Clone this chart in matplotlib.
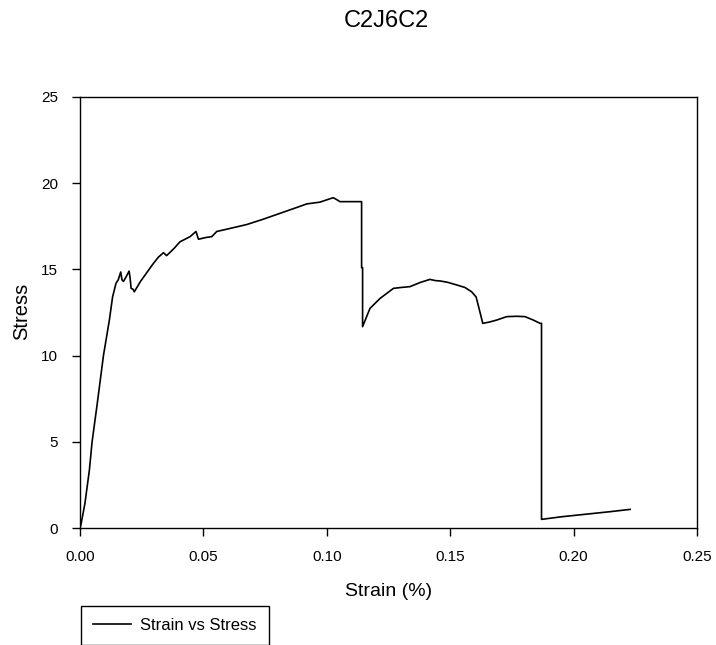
import matplotlib
matplotlib.use("Agg")
import matplotlib.pyplot as plt

plt.rcParams['font.family'] = ['Liberation Sans', 'DejaVu Sans']

title = "C2J6C2"
x_label = "Strain (%)"
y_label = "Stress"
series_label = "Strain vs Stress"

strain = [0.0000, 0.0004, 0.0020, 0.0038, 0.0049, 0.0070, 0.0095, 0.0119, 0.0132,
          0.0146, 0.0155, 0.0165, 0.0170, 0.0176, 0.0188, 0.0199, 0.0203, 0.0207,
          0.0215, 0.0220, 0.0245, 0.0270, 0.0295, 0.0317, 0.0338, 0.0351, 0.0380,
          0.0405, 0.0446, 0.0470, 0.0480, 0.0510, 0.0534, 0.0554, 0.0600, 0.0675,
          0.0740, 0.0810, 0.0870, 0.0919, 0.0972, 0.1026, 0.1040, 0.1053, 0.1141,
          0.1141, 0.1145, 0.1145, 0.1175, 0.1216, 0.1270, 0.1300, 0.1337, 0.1380,
          0.1418, 0.1440, 0.1459, 0.1490, 0.1526, 0.1560, 0.1587, 0.1605, 0.1614,
          0.1632, 0.1660, 0.1688, 0.1729, 0.1770, 0.1803, 0.1837, 0.1864, 0.1870,
          0.1870, 0.1950, 0.2050, 0.2150, 0.2229]
stress = [0.00, 0.20, 1.43, 3.36, 5.00, 7.23, 10.00, 12.06, 13.40,
          14.20, 14.40, 14.85, 14.40, 14.30, 14.60, 14.90, 14.50, 13.90,
          13.85, 13.70, 14.30, 14.80, 15.30, 15.70, 15.97, 15.80, 16.20,
          16.60, 16.90, 17.20, 16.75, 16.85, 16.90, 17.20, 17.35, 17.60,
          17.90, 18.25, 18.55, 18.80, 18.90, 19.16, 19.05, 18.93, 18.93,
          15.10, 15.10, 11.68, 12.74, 13.32, 13.90, 13.95, 14.00, 14.25,
          14.42, 14.35, 14.33, 14.25, 14.10, 13.95, 13.70, 13.40, 12.90,
          11.87, 11.95, 12.06, 12.26, 12.28, 12.26, 12.06, 11.87, 11.87,
          0.50, 0.65, 0.80, 0.95, 1.08]

x_ticks = [0.00, 0.05, 0.10, 0.15, 0.20, 0.25]
y_ticks = [0, 5, 10, 15, 20, 25]

fig = plt.figure(figsize=(7.16, 6.45), dpi=100)
ax = fig.add_axes([80 / 716, 1 - 528 / 645, 617 / 716, 431 / 645])

line, = ax.plot(strain, stress, color='black', linewidth=1.2, label=series_label)

ax.set_xlim(0, 0.25)
ax.set_ylim(0, 25)
ax.set_xticks(x_ticks)
ax.set_xticklabels([f"{v:.2f}" for v in x_ticks])
ax.set_yticks(y_ticks)
ax.tick_params(direction='out', length=6, width=1, labelsize=11, colors='black')
ax.tick_params(axis='x', pad=10)
ax.tick_params(axis='y', pad=10)
for s in ax.spines.values():
    s.set_linewidth(1)
    s.set_color('black')

ax.set_xlabel(x_label, fontsize=14, va='center')
ax.xaxis.set_label_coords(0.5, (528 - 591) / 431)
ax.set_ylabel(y_label, fontsize=14.5, va='center')
ax.yaxis.set_label_coords((21.5 - 80) / 617, 0.503)
fig.text(386 / 716, 1 - 21 / 645, title, fontsize=17, ha='center', va='center')

leg = fig.legend(handles=[line], loc='upper left',
                 bbox_to_anchor=(81 / 716, 1 - 606 / 645),
                 bbox_transform=fig.transFigure,
                 fontsize=12, frameon=True, fancybox=False, edgecolor='black',
                 framealpha=1, borderpad=0.72, handlelength=2.3, handletextpad=0.55,
                 borderaxespad=0)
leg.get_frame().set_linewidth(1)

fig.savefig("out.png", dpi=100)
